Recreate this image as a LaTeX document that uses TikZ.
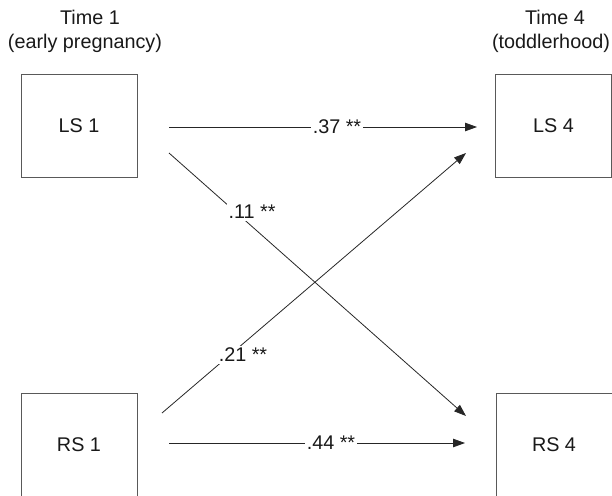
\documentclass[tikz,border=0pt]{standalone}
\usepackage{fontspec}
\setmainfont{Liberation Sans}
\usetikzlibrary{arrows.meta}
\begin{document}
\begin{tikzpicture}[x=1pt,y=-1pt,
  txt/.style={font=\fontsize{19.8}{22}\selectfont,text=black!90},
  box/.style={txt,draw=black!65,line width=0.9pt,minimum width=116pt,minimum height=103pt,inner sep=0pt},
  lab/.style={txt,inner sep=0pt},
  coef/.style={txt,fill=white,inner sep=2pt},
  arr/.style={draw=black!85,line width=0.8pt,-{Triangle[length=12pt,width=8.5pt]}}]
\useasboundingbox (0,0) rectangle (612,495);
% headings
\node[lab] (t1a) at (90,17) {Time 1};
\node[lab] (t1b) at (85,43) {(early pregnancy)};
\node[lab] (t4a) at (555,17) {Time 4};
\node[lab] (t4b) at (551,43) {(toddlerhood)};
% boxes
\node[box] (ls1) at (79,125.5) {LS 1};
\node[box] (ls4) at (553.5,125.5) {LS 4};
\node[box] (rs1) at (79,444.5) {RS 1};
\node[box] (rs4) at (554,444.5) {RS 4};
% connector end points
\coordinate (a1s) at (169,127);
\coordinate (a1e) at (477,127);
\coordinate (a2s) at (169,153);
\coordinate (a2e) at (466,416);
\coordinate (a3s) at (162,413);
\coordinate (a3e) at (466,153);
\coordinate (a4s) at (169,443);
\coordinate (a4e) at (465,443);
% connectors
\draw[arr] (a1s) -- (a1e);
\draw[arr] (a2s) -- (a2e);
\draw[arr] (a3s) -- (a3e);
\draw[arr] (a4s) -- (a4e);
% coefficients
\node[coef] (c1) at (337,127) {.37~**};
\node[coef] (c2) at (252,212) {.11~**};
\node[coef] (c3) at (243,355) {.21~**};
\node[coef] (c4) at (331,443) {.44~**};
\end{tikzpicture}
\end{document}
